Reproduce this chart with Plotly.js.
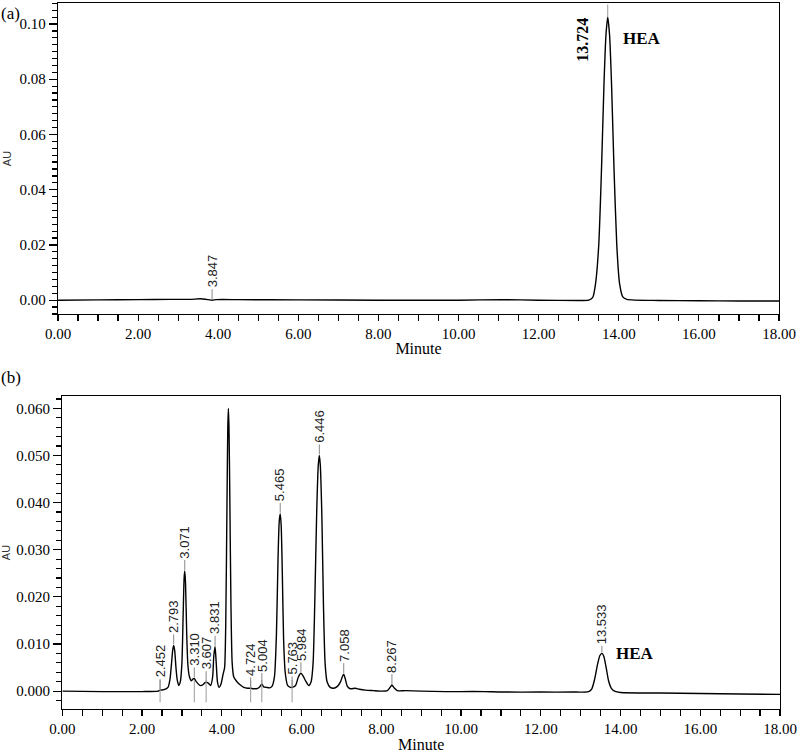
<!DOCTYPE html>
<html>
<head>
<meta charset="utf-8">
<script src="https://cdn.plot.ly/plotly-3.0.1.min.js"></script>
<style>html,body{margin:0;padding:0;background:#fff;}#chart{width:800px;height:753px;}</style>
</head>
<body>
<div id="chart"></div>
<script>
// ---- Panel (a): standard chromatogram ----
const timeA = [0.00, 1.00, 2.00, 2.80, 3.30, 3.55, 3.75, 3.847, 3.95, 4.50, 6.00, 8.00, 10.00, 11.10, 12.00, 13.00, 13.25, 13.35, 13.42, 13.50, 13.57, 13.63, 13.68, 13.724, 13.77, 13.82, 13.88, 13.95, 14.02, 14.10, 14.20, 15.00, 16.00, 17.00, 18.00];
const auA   = [0.0000, 0.0001, 0.0002, 0.0003, 0.0003, 0.0005, 0.0002, 0.0000, 0.0002, 0.0002, 0.0001, 0.0000, 0.0000, 0.0002, 0.0000, -0.0001, 0.0000, 0.0010, 0.0060, 0.0200, 0.0480, 0.0780, 0.0960, 0.1025, 0.0960, 0.0780, 0.0480, 0.0200, 0.0060, 0.0012, 0.0003, -0.0001, -0.0002, -0.0003, -0.0003];
const peakRtA = [3.847];
const peakAuA = [0.0000];
const analyteA = {rt: 13.724, au: 0.1025, name: "HEA"};

// ---- Panel (b): sample chromatogram ----
const timeB = [0.00, 1.00, 2.00, 2.40, 2.452, 2.55, 2.65, 2.70, 2.74, 2.77, 2.793, 2.82, 2.85, 2.88, 2.92, 2.96, 3.00, 3.03, 3.055, 3.071, 3.09, 3.12, 3.15, 3.19, 3.24, 3.28, 3.31, 3.36, 3.45, 3.52, 3.58, 3.607, 3.66, 3.72, 3.77, 3.80, 3.831, 3.86, 3.89, 3.93, 3.98, 4.03, 4.07, 4.10, 4.13, 4.15, 4.165, 4.18, 4.20, 4.23, 4.26, 4.30, 4.38, 4.45, 4.55, 4.65, 4.724, 4.80, 4.90, 4.96, 5.004, 5.05, 5.12, 5.20, 5.26, 5.32, 5.37, 5.41, 5.44, 5.465, 5.49, 5.52, 5.55, 5.59, 5.65, 5.72, 5.763, 5.85, 5.92, 5.984, 6.04, 6.10, 6.18, 6.24, 6.29, 6.33, 6.38, 6.42, 6.446, 6.47, 6.51, 6.55, 6.59, 6.64, 6.72, 6.80, 6.90, 6.98, 7.02, 7.058, 7.10, 7.15, 7.22, 7.35, 7.45, 7.60, 7.80, 8.00, 8.15, 8.22, 8.267, 8.32, 8.40, 8.60, 9.00, 9.60, 10.00, 10.60, 11.00, 12.00, 12.80, 13.20, 13.28, 13.35, 13.42, 13.48, 13.533, 13.58, 13.64, 13.70, 13.77, 13.85, 14.00, 15.00, 16.00, 17.00, 18.00];
const auB   = [0.0000, -0.0001, -0.0001, 0.0000, 0.0002, 0.0003, 0.0008, 0.0025, 0.0060, 0.0088, 0.0097, 0.0085, 0.0050, 0.0025, 0.0012, 0.0020, 0.0060, 0.0160, 0.0240, 0.0255, 0.0230, 0.0120, 0.0055, 0.0030, 0.0022, 0.0026, 0.0027, 0.0020, 0.0012, 0.0013, 0.0018, 0.0019, 0.0017, 0.0012, 0.0030, 0.0075, 0.0094, 0.0060, 0.0020, 0.0008, 0.0015, 0.0035, 0.0050, 0.0150, 0.0400, 0.0560, 0.0600, 0.0560, 0.0420, 0.0180, 0.0060, 0.0030, 0.0020, 0.0014, 0.0008, 0.0006, 0.0006, 0.0005, 0.0006, 0.0010, 0.0015, 0.0009, 0.0008, 0.0007, 0.0010, 0.0030, 0.0120, 0.0280, 0.0360, 0.0376, 0.0350, 0.0240, 0.0110, 0.0040, 0.0012, 0.0008, 0.0008, 0.0012, 0.0030, 0.0038, 0.0032, 0.0022, 0.0012, 0.0020, 0.0060, 0.0180, 0.0380, 0.0480, 0.0500, 0.0480, 0.0370, 0.0180, 0.0060, 0.0020, 0.0008, 0.0006, 0.0010, 0.0020, 0.0030, 0.0036, 0.0025, 0.0010, 0.0005, 0.0006, 0.0004, 0.0002, 0.0001, 0.0000, 0.0001, 0.0008, 0.0013, 0.0007, 0.0001, 0.0001, 0.0000, -0.0001, -0.0001, -0.0001, -0.0002, -0.0002, -0.0002, -0.0001, 0.0005, 0.0025, 0.0055, 0.0075, 0.0080, 0.0074, 0.0050, 0.0022, 0.0006, 0.0000, -0.0003, -0.0004, -0.0005, -0.0006, -0.0007];
const peakRtB = [2.452, 2.793, 3.071, 3.310, 3.607, 3.831, 4.724, 5.004, 5.465, 5.763, 5.984, 6.446, 7.058, 8.267, 13.533];
const peakAuB = [0.0002, 0.0097, 0.0255, 0.0027, 0.0019, 0.0094, 0.0006, 0.0015, 0.0376, 0.0008, 0.0038, 0.0500, 0.0036, 0.0013, 0.0080];
const boundaryRtB = [2.452, 3.310, 3.607, 4.724, 5.004, 5.763];
const boundaryAuB = [0.0000, 0.0000, 0.0000, 0.0000, 0.0000, 0.0000];
const analyteB = {rt: 13.533, au: 0.0080, name: "HEA"};

const xTickFmt = ".2f";
const SERIF = "Liberation Serif, Times New Roman, serif";
const SANS = "Liberation Sans, Arial, sans-serif";

const traces = [
  {x: timeA, y: auA, xaxis: "x", yaxis: "y", type: "scatter", mode: "lines",
   line: {color: "#000", width: 1.4, shape: "spline", smoothing: 0.6}, hoverinfo: "x+y", showlegend: false},
  {x: timeB, y: auB, xaxis: "x2", yaxis: "y2", type: "scatter", mode: "lines",
   line: {color: "#000", width: 1.4, shape: "spline", smoothing: 0.6}, hoverinfo: "x+y", showlegend: false},
  {x: boundaryRtB, y: boundaryAuB, xaxis: "x2", yaxis: "y2", type: "scatter", mode: "markers",
   marker: {symbol: "line-ns-open", size: 16, color: "#999", line: {color: "#999", width: 1}}, hoverinfo: "skip", showlegend: false}
];

const annotations = [];
function peakLabel(xr, yr, rt, au) {
  annotations.push({xref: xr, yref: yr, x: rt, y: au, text: rt.toFixed(3), textangle: -90,
    showarrow: true, arrowhead: 0, arrowwidth: 1, arrowcolor: "#888", ax: 0, ay: -29, standoff: 1,
    font: {family: SANS, size: 13, color: "#222"}});
}
peakRtA.forEach((rt, i) => peakLabel("x", "y", rt, peakAuA[i]));
peakRtB.forEach((rt, i) => peakLabel("x2", "y2", rt, peakAuB[i]));

annotations.push({xref: "x", yref: "y", x: analyteA.rt, y: analyteA.au, text: "<b>" + analyteA.rt.toFixed(3) + "</b>",
  textangle: -90, showarrow: false, xshift: -26, yshift: -23, font: {family: SERIF, size: 16, color: "#000"}});
annotations.push({xref: "x", yref: "y", x: analyteA.rt, y: analyteA.au, text: "", showarrow: true, arrowhead: 0,
  arrowwidth: 1, arrowcolor: "#999", ax: 0, ay: -14, standoff: 0});
annotations.push({xref: "x", yref: "y", x: analyteA.rt, y: analyteA.au, text: "<b>" + analyteA.name + "</b>",
  showarrow: false, xshift: 34, yshift: -21, font: {family: SERIF, size: 17, color: "#000"}});
annotations.push({xref: "x2", yref: "y2", x: analyteB.rt, y: analyteB.au, text: "<b>" + analyteB.name + "</b>",
  showarrow: false, xshift: 33, yshift: 0, font: {family: SERIF, size: 17, color: "#000"}});

annotations.push({xref: "paper", yref: "paper", x: 0, y: 1, xanchor: "left", yanchor: "top", text: "(a)", showarrow: false,
  xshift: -1, yshift: -2, font: {family: SERIF, size: 17, color: "#000"}});
annotations.push({xref: "paper", yref: "paper", x: 0, y: 0.499, xanchor: "left", yanchor: "middle", text: "(b)", showarrow: false,
  xshift: -1, font: {family: SERIF, size: 17, color: "#000"}});

function xAxis(domain, anchor) {
  return {domain: domain, anchor: anchor, range: [0, 18], dtick: 2, tick0: 0, tickformat: xTickFmt,
    showgrid: false, zeroline: false, showline: true, mirror: true, linecolor: "#000", linewidth: 1.2,
    ticks: "outside", ticklen: 6, tickcolor: "#000", tickwidth: 1.2,
    minor: {dtick: 0.5, ticks: "outside", ticklen: 6, tickcolor: "#000", tickwidth: 1.2},
    tickfont: {family: SERIF, size: 15, color: "#000"},
    title: {text: "Minute", font: {family: SERIF, size: 16, color: "#000"}, standoff: 1}};
}
function yAxis(domain, anchor, range, dtick, minorDtick, fmt) {
  return {domain: domain, anchor: anchor, range: range, dtick: dtick, tick0: 0, tickformat: fmt,
    showgrid: false, zeroline: false, showline: true, mirror: true, linecolor: "#000", linewidth: 1.2,
    ticks: "outside", ticklen: 8, tickcolor: "#000", tickwidth: 1.2,
    minor: {dtick: minorDtick, ticks: "outside", ticklen: 5, tickcolor: "#000", tickwidth: 1.2},
    tickfont: {family: SERIF, size: 15, color: "#000"},
    title: {text: "AU", font: {family: SANS, size: 11, color: "#333"}, standoff: 5}};
}

const layout = {
  width: 800, height: 753, paper_bgcolor: "#fff", plot_bgcolor: "#fff",
  margin: {l: 0, r: 0, t: 0, b: 0}, showlegend: false,
  xaxis: xAxis([0.0725, 0.97375], "y"),
  yaxis: yAxis([0.583, 0.996], "x", [-0.005, 0.1076], 0.02, 0.0025, ".2f"),
  xaxis2: xAxis([0.0779, 0.975], "y2"),
  yaxis2: yAxis([0.0584, 0.474], "x2", [-0.0038, 0.0626], 0.01, 0.002, ".3f"),
  annotations: annotations
};

Plotly.newPlot("chart", traces, layout, {displayModeBar: false, staticPlot: true});
</script>
</body>
</html>
